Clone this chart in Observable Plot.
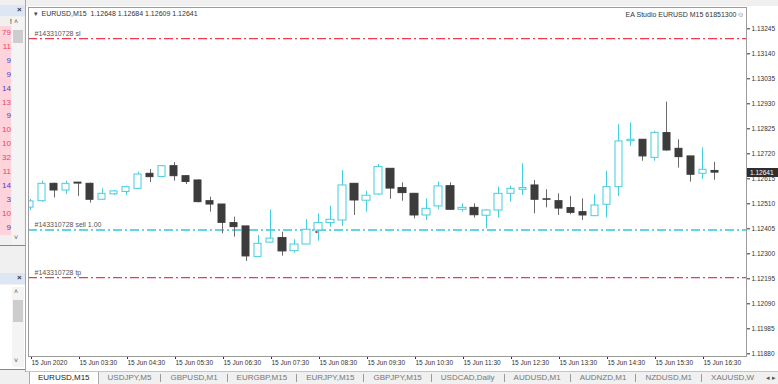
<!DOCTYPE html>
<html><head><meta charset="utf-8">
<script src="https://cdn.jsdelivr.net/npm/d3@7"></script>
<script src="https://cdn.jsdelivr.net/npm/@observablehq/plot@0.6"></script>
<style>
html,body{margin:0;padding:0}
body{width:778px;height:384px;overflow:hidden;position:relative;background:#f0f0f0;font-family:"Liberation Sans",Arial,sans-serif}
#chart{position:absolute;left:0;top:0}
#chart svg{display:block}
#topband{position:absolute;left:26px;top:0;width:752px;height:6px;background:#f0f0f0}
#pricebox{position:absolute;left:747px;width:31px;height:9px;background:#2e2e2e;color:#fff;font-size:6.5px;line-height:9px;padding-left:3px;box-sizing:border-box}
#lp{position:absolute;left:0;top:0;width:26px;height:372px;background:#f0f0f0;border-right:1px solid #a8a8a8;box-sizing:border-box;overflow:hidden}
.hdr{position:absolute;left:0;width:25px;height:11px;background:#dde7f3}
.x{position:absolute;font-size:8px;font-weight:bold;color:#333}
.num{position:absolute;left:0;width:11px;height:14px;background:#ffd3dc;font-size:8px;line-height:14px;text-align:right}
.sb{position:absolute;left:12px;width:12px;background:#f4f4f4}
.arr{position:absolute;left:14px;font-size:7px;color:#555}
.thumb{position:absolute;left:13px;width:10px;background:#cdcdcd}
#tabs{position:absolute;left:26px;top:371px;width:752px;height:13px;background:#f0f0f0;border-top:1px solid #c4c4c4;box-sizing:border-box;display:flex;align-items:flex-start}
.tab{font-size:8px;line-height:11px;color:#777;white-space:nowrap;padding:0 9px;position:relative}
.tab.active{background:#fff;color:#222;border-left:1px solid #aaa;border-right:1px solid #aaa;margin-left:3px;padding:0 8px;height:12px}
.sep{width:1px;height:8px;background:#9a9a9a;margin-top:2px}
#tabarrows{position:absolute;right:0;top:372px;width:22px;height:12px;background:#f0f0f0;font-size:7px;color:#555;line-height:11px;text-align:right;padding-right:2px;box-sizing:border-box}
</style></head><body>
<div id="chart"></div>
<div id="topband"></div>
<div id="lp"></div>
<div id="pricebox"></div>
<div id="tabs"></div>
<div id="tabarrows">&#9666;&nbsp;&#9656;</div>
<script>
// ---- data ----
const symbol = "EURUSD";
const timeframe = "M15";
const eaLabel = "EA Studio EURUSD M15 61851300";

const opens = [1.12494,1.12521,1.12594,1.12566,1.12599,1.12594,1.12527,1.12550,1.12560,1.12573,
1.12636,1.12623,1.12668,1.12626,1.12608,1.12521,1.12507,1.12429,1.12415,1.12286,
1.12347,1.12366,1.12311,1.12339,1.12398,1.12429,1.12440,1.12594,1.12523,1.12549,
1.12657,1.12576,1.12552,1.12461,1.12499,1.12584,1.12485,1.12493,1.12460,1.12482,
1.12552,1.12569,1.12587,1.12529,1.12521,1.12492,1.12475,1.12458,1.12506,1.12580,
1.12773,1.12779,1.12703,1.12807,1.12741,1.12709,1.12636,1.12648];
const highs = [1.12528,1.12605,1.12597,1.12605,1.12599,1.12597,1.12573,1.12566,1.12584,1.12643,
1.12654,1.12671,1.12683,1.12629,1.12611,1.12538,1.12507,1.12454,1.12415,1.12377,
1.12485,1.12391,1.12359,1.12443,1.12468,1.12500,1.12650,1.12594,1.12563,1.12675,
1.12657,1.12598,1.12552,1.12531,1.12601,1.12598,1.12510,1.12510,1.12485,1.12580,
1.12584,1.12678,1.12608,1.12569,1.12552,1.12541,1.12531,1.12548,1.12646,1.12842,
1.12850,1.12779,1.12815,1.12937,1.12779,1.12709,1.12745,1.12684];
const lows = [1.12482,1.12517,1.12535,1.12549,1.12541,1.12513,1.12524,1.12545,1.12544,1.12570,
1.12599,1.12620,1.12605,1.12591,1.12514,1.12475,1.12384,1.12370,1.12268,1.12286,
1.12345,1.12290,1.12303,1.12339,1.12353,1.12412,1.12415,1.12461,1.12475,1.12545,
1.12529,1.12521,1.12447,1.12440,1.12485,1.12482,1.12475,1.12450,1.12405,1.12450,
1.12517,1.12545,1.12468,1.12493,1.12461,1.12464,1.12440,1.12458,1.12451,1.12541,
1.12751,1.12689,1.12689,1.12731,1.12660,1.12601,1.12612,1.12609];
const closes = [1.12520,1.12594,1.12566,1.12594,1.12595,1.12527,1.12552,1.12562,1.12580,1.12633,
1.12622,1.12668,1.12626,1.12602,1.12517,1.12507,1.12430,1.12412,1.12289,1.12342,
1.12364,1.12310,1.12339,1.12401,1.12429,1.12443,1.12587,1.12524,1.12544,1.12664,
1.12574,1.12555,1.12461,1.12489,1.12583,1.12485,1.12493,1.12462,1.12482,1.12552,
1.12573,1.12576,1.12527,1.12527,1.12490,1.12472,1.12461,1.12503,1.12580,1.12772,
1.12779,1.12709,1.12808,1.12734,1.12706,1.12632,1.12653,1.12641];

const yTicks = [1.13245,1.13140,1.13035,1.12930,1.12825,1.12720,1.12615,1.12510,1.12405,1.12300,1.12195,1.12090,1.11985,1.11880];
const timeLabels = ["15 Jun 2020","15 Jun 03:30","15 Jun 04:30","15 Jun 05:30","15 Jun 06:30","15 Jun 07:30","15 Jun 08:30","15 Jun 09:30","15 Jun 10:30","15 Jun 11:30","15 Jun 12:30","15 Jun 13:30","15 Jun 14:30","15 Jun 15:30","15 Jun 16:30"];
const labelBars = [0,4,8,12,16,20,24,28,32,36,40,44,48,52,56];

const orderNames = ["#143310728 sl","#143310728 sell 1.00","#143310728 tp"];
const orderPrices = [1.13204,1.12400,1.12200];
const orderKinds = ["stop","entry","stop"];
const entryBar = 24;

const tabNames = ["EURUSD,M15","USDJPY,M5","GBPUSD,M1","EURGBP,M15","EURJPY,M15","GBPJPY,M15","USDCAD,Daily","AUDUSD,M1","AUDNZD,M1","NZDUSD,M1","XAUUSD,W"];
const watchNums = ["79","11","9","9","14","13","9","10","10","32","11","14","3","10","9"];
const watchUp = [0,0,1,1,1,0,1,0,0,0,0,1,1,0,1];

// ---- chart ----
const cyan = "#45cde0";
const bearFill = "#3c3c3c";
const redLine = "#f0384e";
const cyanLine = "#2fc8dc";
const fmt = d3.format(".5f");

const bars = opens.map((o, i) => ({i, open: o, high: highs[i], low: lows[i], close: closes[i], bull: closes[i] >= o}));
const orders = orderNames.map((name, k) => ({name, price: orderPrices[k], kind: orderKinds[k]}));
const labelMap = new Map(labelBars.map((b, k) => [b, timeLabels[k]]));
const last = bars[bars.length - 1];
const hw = 0.3;

const chart = Plot.plot({
  width: 778, height: 372,
  marginLeft: 28, marginRight: 32, marginTop: 7, marginBottom: 16,
  style: {background: "white", fontFamily: "'Liberation Sans', Arial, sans-serif", fontSize: "6.5px", color: "#333"},
  x: {type: "linear", domain: [-0.14, 59.64], round: true},
  y: {domain: [1.118687, 1.133345]},
  marks: [
    Plot.ruleY(orders, {y: "price", stroke: d => d.kind === "entry" ? cyanLine : redLine, strokeDasharray: "9,3,2,3", strokeWidth: 1.3}),
    Plot.text(orders, {y: "price", text: "name", frameAnchor: "left", textAnchor: "start", dx: 6, dy: -5, fontSize: 7, fill: "#555"}),
    Plot.ruleX(bars, {x: "i", y1: "low", y2: "high", stroke: d => d.bull ? cyan : "#6a6a6a", strokeWidth: 1, clip: true}),
    Plot.rect(bars.filter(d => d.bull), {x1: d => d.i - hw, x2: d => d.i + hw, y1: "open", y2: "close", fill: "white", stroke: cyan, strokeWidth: 1, clip: true}),
    Plot.rect(bars.filter(d => !d.bull), {x1: d => d.i - hw, x2: d => d.i + hw, y1: "open", y2: "close", fill: bearFill, stroke: bearFill, strokeWidth: 1, clip: true}),
    Plot.dot([{i: entryBar, p: orderPrices[1]}], {x: "i", y: "p", symbol: "square", r: 1.2, fill: "#e02b2b", dx: -2, dy: 2}),
    Plot.axisY(yTicks, {anchor: "right", tickSize: 3, tickPadding: 2, tickFormat: fmt, label: null, color: "#333", fontSize: 6.5}),
    Plot.axisX(labelBars, {anchor: "bottom", tickSize: 3, tickPadding: 1, tickFormat: d => labelMap.get(d), textAnchor: "start", dx: 1, label: null, color: "#333", fontSize: 6.5}),
    Plot.frame({stroke: "#9c9c9c"}),
    Plot.text(["\u25BE"], {frameAnchor: "top-left", dx: 5, dy: 6.5, lineAnchor: "middle", textAnchor: "start", fontSize: 7, fill: "#444"}),
    Plot.text([`${symbol},${timeframe}\u00a0\u00a0${fmt(last.open)} ${fmt(last.high)} ${fmt(last.low)} ${fmt(last.close)}`], {frameAnchor: "top-left", dx: 13, dy: 6.5, lineAnchor: "middle", textAnchor: "start", fontSize: 7, fill: "#333"}),
    Plot.text([eaLabel], {frameAnchor: "top-right", dx: -10, dy: 7, lineAnchor: "middle", textAnchor: "end", fontSize: 7, fill: "#333"}),
    Plot.text(["\u263A"], {frameAnchor: "top-right", dx: -2, dy: 7, lineAnchor: "middle", textAnchor: "end", fontSize: 7.5, fill: "#555"})
  ]
});
document.getElementById("chart").appendChild(chart);

// current price box positioned by the y scale
const yPos = chart.scale("y").apply(last.close);
const pb = document.getElementById("pricebox");
pb.style.top = (yPos - 4.5) + "px";
pb.textContent = fmt(last.close);

// left (market watch style) panel
const lp = document.getElementById("lp");
let html = '<div class="hdr" style="top:5px"></div><div class="x" style="left:17px;top:5px">\u00d7</div>';
html += '<div style="position:absolute;left:0;top:17px;width:12px;height:11px;font-size:8px;text-align:right;color:#333">!</div>';
html += '<div class="sb" style="top:17px;height:228px"></div><div class="arr" style="top:18px">\u02C4</div><div class="thumb" style="top:30px;height:13px"></div><div class="arr" style="top:234px">\u02C5</div>';
watchNums.forEach((n, k) => {
  html += `<div class="num" style="top:${26 + k * 13.9}px;color:${watchUp[k] ? '#4a3fd0' : '#ee4060'}">${n}</div>`;
});
html += '<div style="position:absolute;left:0;top:245px;width:25px;height:1px;background:#888"></div>';
html += '<div class="hdr" style="top:273px"></div><div class="x" style="left:17px;top:273px">\u00d7</div>';
html += '<div style="position:absolute;left:0;top:285px;width:25px;height:84px;background:#fff"></div>';
html += '<div class="sb" style="top:287px;height:80px"></div><div class="arr" style="top:288px">\u02C4</div><div class="thumb" style="top:300px;height:22px"></div><div class="arr" style="top:357px">\u02C5</div>';
html += '<div style="position:absolute;left:0;top:369px;width:25px;height:1px;background:#888"></div>';
lp.innerHTML = html;

// bottom tabs
const tabs = document.getElementById("tabs");
tabNames.forEach((t, k) => {
  if (k > 1) { const s = document.createElement("div"); s.className = "sep"; tabs.appendChild(s); }
  const d = document.createElement("div");
  d.className = "tab" + (k === 0 ? " active" : "");
  d.textContent = t;
  tabs.appendChild(d);
});
</script>
</body></html>
